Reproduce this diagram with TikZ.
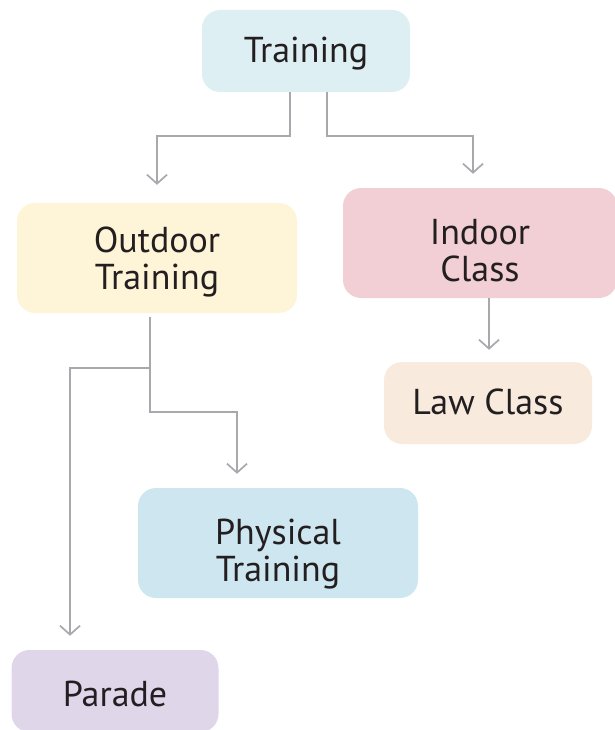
\documentclass[tikz,border=0pt]{standalone}
\usepackage{fontspec}
\setmainfont{PT Sans}
\usetikzlibrary{arrows.meta,calc}
\definecolor{cTrain}{HTML}{DDEFF2}
\definecolor{cOut}{HTML}{FEF4D8}
\definecolor{cIn}{HTML}{F1CFD4}
\definecolor{cLaw}{HTML}{F8EBDD}
\definecolor{cPhys}{HTML}{CDE6EF}
\definecolor{cPar}{HTML}{DFD6EA}
\definecolor{linegray}{HTML}{A8A9AD}
\definecolor{txt}{HTML}{231F20}
\newcommand\boxtext[2]{\raisebox{-#1}[\height][\depth]{\begin{tabular}{@{}c@{}}#2\end{tabular}}}
\begin{document}
\begin{tikzpicture}[x=1pt,y=-1pt,
  box/.style={rounded corners=18pt, inner sep=0pt, text=txt,
    font=\fontsize{36}{37}\selectfont},
  conn/.style={draw=linegray, line width=1.7pt, -{Straight Barb[length=9pt,width=20pt]}}]
\useasboundingbox (0,0) rectangle (615,730);
\node[box, fill=cTrain, minimum width=208pt, minimum height=82pt] (train) at (306,51) {\boxtext{3.7pt}{Training}};
\node[box, fill=cOut, minimum width=280pt, minimum height=110pt] (out) at (157,258) {\boxtext{6pt}{Outdoor\\Training}};
\node[box, fill=cIn, minimum width=274pt, minimum height=110pt] (in) at (480,243) {\boxtext{13pt}{Indoor\\Class}};
\node[box, fill=cLaw, minimum width=208pt, minimum height=82pt] (law) at (488,403) {\boxtext{3.7pt}{Law Class}};
\node[box, fill=cPhys, minimum width=280pt, minimum height=110pt] (phys) at (278,543) {\boxtext{12.5pt}{Physical\\Training}};
\node[box, fill=cPar, minimum width=207pt, minimum height=82pt] (par) at (115,691) {\boxtext{8pt}{Parade}};
\draw[conn] ($(train.south)+(-16,0)$) -- ++(0,44) -| ($(out.north)+(0,-18)$);
\draw[conn] ($(train.south)+(21,0)$) -- ++(0,44) -| ($(in.north)+(-7,-14)$);
\draw[conn] ($(out.south)+(-7,4)$) -- ++(0,95) -| ($(phys.north)+(-41,-14)$);
\coordinate (br) at ($(out.south)+(-7,55)$);
\draw[conn] (br) -| ($(par.north)+(-45,-14)$);
\draw[conn] ($(in.south)+(9,0)$) -- ($(law.north)+(1,-12)$);
\end{tikzpicture}
\end{document}
